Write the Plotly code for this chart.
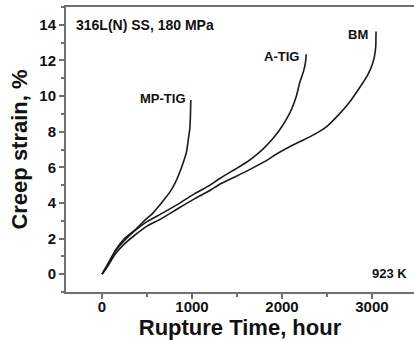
import plotly.graph_objects as go

# Data (hours, creep strain %)
mp_tig_t = [0, 50, 100, 150, 250, 370, 480, 560, 624, 700, 754, 809, 865, 905, 939, 960, 976, 982, 985, 987]
mp_tig_e = [0, 0.45, 0.9, 1.35, 2.0, 2.5, 3.05, 3.4, 3.77, 4.25, 4.61, 5.09, 5.74, 6.3, 6.87, 7.6, 8.18, 8.8, 9.4, 9.78]

a_tig_t = [0, 50, 100, 150, 250, 366, 500, 661, 850, 1031, 1200, 1308, 1475, 1580, 1677, 1780, 1880, 1973, 2050, 2110, 2160, 2200, 2240, 2258, 2266, 2268]
a_tig_e = [0, 0.4, 0.85, 1.3, 1.9, 2.45, 2.95, 3.4, 3.95, 4.52, 5.0, 5.37, 5.88, 6.2, 6.55, 6.98, 7.5, 8.09, 8.7, 9.3, 10.0, 10.8, 11.4, 11.8, 12.1, 12.35]

bm_t = [0, 50, 100, 150, 250, 366, 500, 661, 850, 1031, 1200, 1308, 1475, 1650, 1863, 1940, 2100, 2232, 2370, 2500, 2620, 2750, 2860, 2952, 3012, 3030, 3042, 3045]
bm_e = [0, 0.35, 0.75, 1.15, 1.7, 2.2, 2.7, 3.12, 3.7, 4.24, 4.7, 5.05, 5.46, 5.9, 6.49, 6.75, 7.2, 7.52, 7.88, 8.3, 8.9, 9.65, 10.45, 11.18, 11.9, 12.3, 12.8, 13.62]

x_ticks = [0, 1000, 2000, 3000]
y_ticks = [0, 2, 4, 6, 8, 10, 12, 14]

FONT = "Liberation Sans, Arial, sans-serif"
LINE = "#1a1a1a"
AX = "#707070"

fig = go.Figure()
for t, e in [(mp_tig_t, mp_tig_e), (a_tig_t, a_tig_e), (bm_t, bm_e)]:
    fig.add_trace(go.Scatter(x=t, y=e, mode="lines", line=dict(color=LINE, width=1.6, shape="spline", smoothing=0.6),
                             showlegend=False))

def ann(x, y, text, size=13, xanchor="right"):
    fig.add_annotation(x=x, y=y, text=text, showarrow=False, xanchor=xanchor, yanchor="middle",
                       font=dict(family=FONT, size=size, color="#111", weight="bold"))

ann(-310, 14.0, "316L(N) SS, 180 MPa", size=14, xanchor="left")
ann(955, 9.88, "MP-TIG")
ann(2211, 12.22, "A-TIG")
ann(2978, 13.48, "BM")
ann(3408, 0.04, "923 K")

tickfont = dict(family=FONT, size=15, color="#111", weight="bold")
fig.update_layout(
    width=414, height=340,
    margin=dict(l=66, r=0, t=7, b=48),
    paper_bgcolor="white", plot_bgcolor="white",
    font=dict(family=FONT, color="#111"),
    xaxis=dict(range=[-400, 3467], tickvals=x_ticks, ticks="outside", ticklen=5, tickwidth=1.5, tickcolor=AX,
               showline=True, linecolor=AX, linewidth=2, mirror=True, showgrid=False, zeroline=False,
               tickfont=tickfont, ticklabelstandoff=-5,
               minor=dict(dtick=500, tick0=0, ticks="outside", ticklen=3, tickcolor=AX, tickwidth=1.5),
               title=dict(text="Rupture Time, hour", font=dict(family=FONT, size=22, color="#111", weight="bold"),
                          standoff=2)),
    yaxis=dict(range=[-1, 15], tickvals=y_ticks, ticks="outside", ticklen=5, tickwidth=1.5, tickcolor=AX,
               showline=True, linecolor=AX, linewidth=2, showgrid=False, zeroline=False,
               tickfont=tickfont,
               minor=dict(dtick=1, tick0=0, ticks="outside", ticklen=3, tickcolor=AX, tickwidth=1.5),
               title=dict(text="Creep strain, %", font=dict(family=FONT, size=22, color="#111", weight="bold"),
                          standoff=6)),
)

fig.write_html("out.html")
